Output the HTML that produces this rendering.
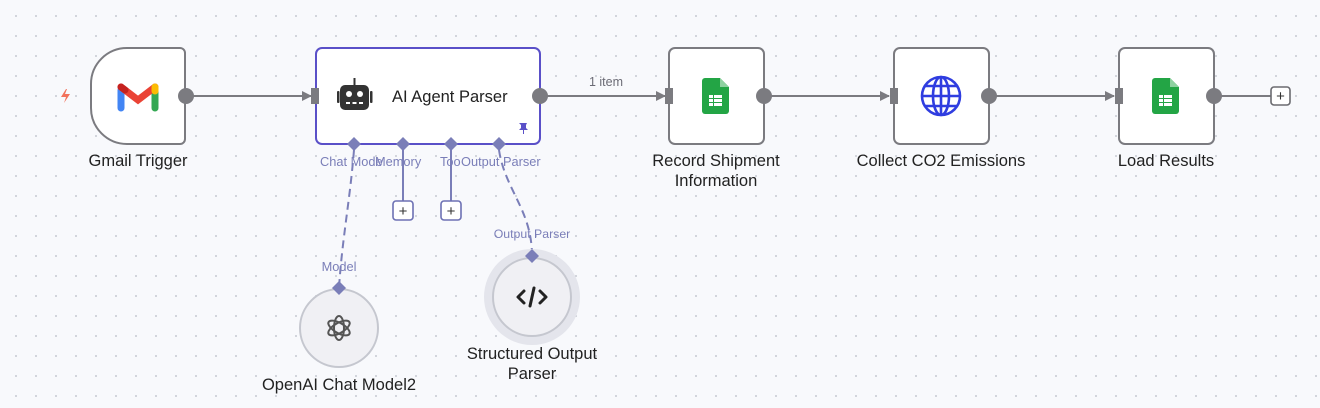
<!DOCTYPE html>
<html><head><meta charset="utf-8"><style>
html,body{margin:0;padding:0;}
body{width:1320px;height:408px;overflow:hidden;background:#f8f9fc;
background-image:radial-gradient(circle,#c9ccd4 0.9px,transparent 1.1px);background-size:20px 20px;background-position:6px 6px;}
svg{position:absolute;left:0;top:0;font-family:"Liberation Sans",sans-serif;}
</style></head><body>
<svg width="1320" height="408" viewBox="0 0 1320 408">
<defs>
<marker id="ar" markerWidth="10" markerHeight="10" refX="9" refY="5" orient="auto" markerUnits="userSpaceOnUse"><path d="M0,0 L10,5 L0,10 z" fill="#7b7b80"/></marker>
</defs>
<g stroke="#7b7b80" stroke-width="2" fill="none">
<line x1="190" y1="96" x2="311" y2="96" marker-end="url(#ar)"/>
<line x1="544" y1="96" x2="665" y2="96" marker-end="url(#ar)"/>
<line x1="768" y1="96" x2="889" y2="96" marker-end="url(#ar)"/>
<line x1="993" y1="96" x2="1114" y2="96" marker-end="url(#ar)"/>
<line x1="1218" y1="96" x2="1271" y2="96"/>
</g>
<text x="606" y="86" font-size="12.5" fill="#6b6b75" text-anchor="middle">1 item</text>
<g stroke="#7a7eb8" stroke-width="2" fill="none">
<line x1="403" y1="144" x2="403" y2="201"/>
<line x1="451" y1="144" x2="451" y2="201"/>
<path d="M354,150 C350,200 342,240 339,288" stroke-dasharray="8,5"/>
<path d="M499,150 C505,190 532,210 532,256" stroke-dasharray="8,5"/>
</g>
<g fill="#fff" stroke="#6d71b4" stroke-width="1.6">
<rect x="393" y="201" width="20" height="19" rx="3"/>
<rect x="441" y="201" width="20" height="19" rx="3"/>
<rect x="1271" y="87" width="19" height="18" rx="3" stroke="#6b6b70"/>
</g>
<g font-size="15" fill="#333" text-anchor="middle">
<text x="403" y="216">+</text><text x="451" y="216">+</text><text x="1280.5" y="101">+</text>
</g>
<path d="M127,48 H180 a5,5 0 0 1 5,5 V139 a5,5 0 0 1 -5,5 H127 a36,36 0 0 1 -36,-36 V84 a36,36 0 0 1 36,-36 z" fill="#fff" stroke="#7b7b80" stroke-width="2"/>
<path d="M66,89 l-5,8 h5 l-2,6 l6,-9 h-5 l2,-5 z" fill="#f2725c"/>
<g stroke-linecap="round" stroke-width="7" fill="none">
<line x1="121" y1="90" x2="121" y2="108" stroke="#4285f4"/>
<line x1="155" y1="90" x2="155" y2="108" stroke="#34a853"/>
<path d="M121,87 L138,100 L155,87" stroke="#ea4335"/>
<line x1="121" y1="87" x2="125" y2="90" stroke="#c5221f"/>
<line x1="155" y1="87" x2="155" y2="91" stroke="#fbbc04"/>
</g>
<circle cx="186" cy="96" r="8" fill="#7b7b80"/>
<text x="138" y="166" font-size="16.5" fill="#222" text-anchor="middle">Gmail Trigger</text>
<rect x="316" y="48" width="224" height="96" rx="6" fill="#fff" stroke="#5a50c8" stroke-width="2"/>
<rect x="311" y="88" width="8" height="16" fill="#7b7b80"/>
<circle cx="540" cy="96" r="8" fill="#7b7b80"/>
<g fill="#333">
<rect x="340" y="85" width="29" height="25" rx="5"/>
<rect x="337" y="91" width="2.5" height="12" rx="1"/><rect x="370" y="91" width="2.5" height="12" rx="1"/>
<rect x="353.5" y="78" width="2" height="7"/>
</g>
<g fill="#fff"><circle cx="349" cy="94" r="3"/><circle cx="360" cy="94" r="3"/><rect x="346" y="102" width="4" height="2"/><rect x="352.5" y="102" width="4" height="2"/><rect x="359" y="102" width="4" height="2"/></g>
<text x="392" y="102" font-size="16.5" fill="#222">AI Agent Parser</text>
<path d="M519,123 h8 l-1,2 v3 l2,2 h-4 v4 h-1 v-4 h-4 l2,-2 v-3 z" fill="#5a50c8"/>
<g fill="#7a7eb8">
<path d="M354,137 l7,7 l-7,7 l-7,-7 z"/>
<path d="M403,137 l7,7 l-7,7 l-7,-7 z"/>
<path d="M451,137 l7,7 l-7,7 l-7,-7 z"/>
<path d="M499,137 l7,7 l-7,7 l-7,-7 z"/>
</g>
<g font-size="12.8" fill="#7a7eb8">
<text x="320" y="166">Chat Mode</text>
<text x="375" y="166">Memory</text>
<text x="440" y="166">Too</text>
<text x="461" y="166">Output Parser</text>
<text x="339" y="271" text-anchor="middle">Model</text>
<text x="532" y="238" text-anchor="middle" font-size="12.3">Output Parser</text>
</g>
<circle cx="339" cy="328" r="39" fill="#f0f0f4" stroke="#c5c7cf" stroke-width="2"/>
<path d="M339,281 l7,7 l-7,7 l-7,-7 z" fill="#7a7eb8"/>
<g fill="none" stroke="#555" stroke-width="2">
<ellipse cx="339" cy="328" rx="5" ry="12"/>
<ellipse cx="339" cy="328" rx="5" ry="12" transform="rotate(60 339 328)"/>
<ellipse cx="339" cy="328" rx="5" ry="12" transform="rotate(-60 339 328)"/>
</g>
<text x="339" y="390" font-size="16.5" fill="#222" text-anchor="middle">OpenAI Chat Model2</text>
<circle cx="532" cy="297" r="48" fill="#e4e5ec"/>
<circle cx="532" cy="297" r="39" fill="#f0f0f4" stroke="#c5c7cf" stroke-width="2"/>
<path d="M532,249 l7,7 l-7,7 l-7,-7 z" fill="#7a7eb8"/>
<g fill="none" stroke="#222" stroke-width="3" stroke-linecap="round" stroke-linejoin="round">
<path d="M524,291 l-6,6 l6,6"/><path d="M540,291 l6,6 l-6,6"/><path d="M534,288 l-4,18"/>
</g>
<text x="532" y="359" font-size="16.5" fill="#222" text-anchor="middle">Structured Output</text>
<text x="532" y="379" font-size="16.5" fill="#222" text-anchor="middle">Parser</text>
<g fill="#fff" stroke="#7b7b80" stroke-width="2">
<rect x="669" y="48" width="95" height="96" rx="6"/>
<rect x="894" y="48" width="95" height="96" rx="6"/>
<rect x="1119" y="48" width="95" height="96" rx="6"/>
</g>
<g fill="#7b7b80">
<rect x="665" y="88" width="8" height="16"/><circle cx="764" cy="96" r="8"/>
<rect x="890" y="88" width="8" height="16"/><circle cx="989" cy="96" r="8"/>
<rect x="1115" y="88" width="8" height="16"/><circle cx="1214" cy="96" r="8"/>
</g>
<g id="sh">
<path d="M705,78 h15 l9,9 v24 a3,3 0 0 1 -3,3 h-21 a3,3 0 0 1 -3,-3 v-30 a3,3 0 0 1 3,-3 z" fill="#23a545"/>
<path d="M720,78 l9,9 h-9 z" fill="#8ed1a0"/>
<g fill="#fff"><rect x="709" y="95" width="4" height="3"/><rect x="714" y="95" width="8" height="3"/><rect x="709" y="99" width="4" height="3"/><rect x="714" y="99" width="8" height="3"/><rect x="709" y="103" width="4" height="3"/><rect x="714" y="103" width="8" height="3"/></g>
</g>
<use href="#sh" x="450" y="0"/>
<g fill="none" stroke="#2f3de0" stroke-width="2.6">
<circle cx="941" cy="96" r="19"/>
<ellipse cx="941" cy="96" rx="8" ry="19"/>
<line x1="922" y1="96" x2="960" y2="96"/>
<line x1="925" y1="86" x2="957" y2="86"/><line x1="925" y1="106" x2="957" y2="106"/>
<line x1="941" y1="77" x2="941" y2="115"/>
</g>
<g font-size="16.5" fill="#222" text-anchor="middle">
<text x="716" y="166">Record Shipment</text>
<text x="716" y="186">Information</text>
<text x="941" y="166">Collect CO2 Emissions</text>
<text x="1166" y="166">Load Results</text>
</g>
</svg>
</body></html>
